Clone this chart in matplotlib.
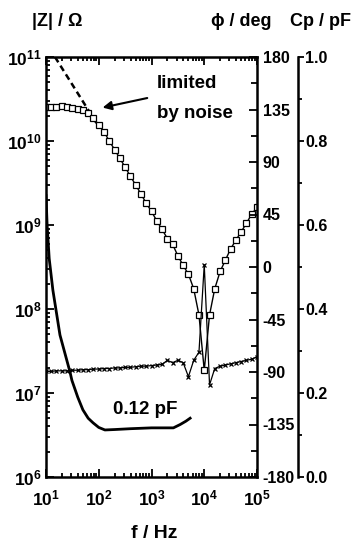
import matplotlib
matplotlib.use('Agg')
import matplotlib.pyplot as plt
from matplotlib.ticker import LogLocator, MultipleLocator, NullFormatter, FormatStrFormatter

plt.rcParams['font.family'] = ['Liberation Sans', 'DejaVu Sans']
plt.rcParams['font.weight'] = 'bold'
plt.rcParams['axes.unicode_minus'] = False
plt.rcParams['mathtext.fontset'] = 'custom'
plt.rcParams['mathtext.rm'] = 'Liberation Sans:bold'
plt.rcParams['mathtext.it'] = 'Liberation Sans:bold:italic'
plt.rcParams['mathtext.bf'] = 'Liberation Sans:bold'

# measured spectrum, 10 points per decade
freq = [10, 12.6, 15.8, 20, 25.1, 31.6, 39.8, 50.1, 63.1, 79.4,
        100, 126, 158, 200, 251, 316, 398, 501, 631, 794,
        1000, 1260, 1580, 2000, 2510, 3160, 3980, 5010, 6310, 7940,
        10000, 12600, 15800, 20000, 25100, 31600, 39800, 50100, 63100, 79400,
        100000]
z_abs = [2.54e10, 2.54e10, 2.51e10, 2.63e10, 2.51e10, 2.45e10, 2.40e10, 2.34e10, 2.14e10, 1.86e10,
         1.55e10, 1.29e10, 1.0e10, 7.9e9, 6.2e9, 4.9e9, 3.8e9, 3.0e9, 2.34e9, 1.82e9,
         1.45e9, 1.12e9, 8.9e8, 6.9e8, 5.9e8, 4.3e8, 3.3e8, 2.6e8, 1.74e8, 8.5e7,
         1.86e7, 8.5e7, 1.74e8, 2.8e8, 3.8e8, 5.2e8, 6.6e8, 8.3e8, 1.05e9, 1.35e9,
         1.62e9]
phase = [-89.5, -89.5, -89, -89, -89, -88.5, -88.5, -88, -88, -87.5,
         -87.5, -87, -87, -86.5, -86.5, -86, -86, -85.5, -85, -85,
         -84.5, -84, -83.5, -80, -82, -80, -82, -94, -80, -73,
         2, -101, -87, -85, -84, -83, -82, -81, -80, -79,
         -77]

# parallel capacitance
cp_freq = [10, 10.5, 11.5, 13.5, 18.4, 28.5, 31, 40, 50, 63, 78, 100, 131,
           200, 400, 1000, 2000, 2600, 3500, 4500, 5400]
cp_pf = [0.67, 0.60, 0.52, 0.445, 0.338, 0.25, 0.23, 0.19, 0.16, 0.14, 0.129, 0.118, 0.112,
         0.113, 0.115, 0.117, 0.117, 0.117, 0.125, 0.133, 0.14]

# ideal capacitor line
ideal_freq = [14.8, 100]
ideal_z = [1e11, 1.48e10]

W, H = 354, 542
L, R, T, B = 46, 257, 57, 477
fig = plt.figure(figsize=(W / 100, H / 100), dpi=100)
ax = fig.add_axes([L / W, 1 - B / H, (R - L) / W, (B - T) / H])

ax.plot(ideal_freq, ideal_z, color='k', lw=1.8, ls=(0, (2.5, 1.6)))
ax.plot(freq, z_abs, color='k', lw=1.0, marker='s', ms=4.2, mfc='white', mec='k', mew=0.9)

ax.set_xscale('log')
ax.set_yscale('log')
ax.set_xlim(10, 1e5)
ax.set_ylim(1e6, 1e11)
ax.xaxis.set_major_locator(LogLocator(base=10, numticks=10))
ax.xaxis.set_minor_locator(LogLocator(base=10, subs=range(2, 10), numticks=20))
ax.xaxis.set_minor_formatter(NullFormatter())
ax.yaxis.set_major_locator(LogLocator(base=10, numticks=10))
ax.yaxis.set_minor_locator(LogLocator(base=10, subs=range(2, 10), numticks=20))
ax.yaxis.set_minor_formatter(NullFormatter())
ax.tick_params(which='both', direction='in', top=True, right=False, width=1.3, labelsize=12.5)
ax.tick_params(which='major', length=6)
ax.tick_params(which='minor', length=3)
ax.tick_params(axis='x', pad=8)
ax.tick_params(axis='y', pad=3)
for s in ax.spines.values():
    s.set_linewidth(1.8)
ax.spines['right'].set_visible(False)

ax.annotate('', xy=(105, 2.46e10), xytext=(935, 3.3e10),
            arrowprops=dict(arrowstyle='-|>', lw=1.5, color='k', mutation_scale=13))
ax.text(1260, 4.8e10, 'limited', fontsize=13.5, ha='left', va='center')
ax.text(1260, 2.1e10, 'by noise', fontsize=13.5, ha='left', va='center')

# phase axis
axp = ax.twinx()
axp.plot(freq, phase, color='k', lw=0.9, marker='x', ms=3.5, mew=0.9)
axp.set_ylim(-180, 180)
axp.yaxis.set_major_locator(MultipleLocator(45))
axp.yaxis.set_minor_locator(MultipleLocator(22.5))
axp.tick_params(which='both', direction='in', width=1.3, pad=4, labelsize=11.5)
axp.tick_params(which='major', length=6)
axp.tick_params(which='minor', length=4)
for k in ['left', 'top', 'bottom']:
    axp.spines[k].set_visible(False)
axp.spines['right'].set_linewidth(1.8)

# capacitance axis
axc = ax.twinx()
axc.plot(cp_freq, cp_pf, color='k', lw=2.0)
axc.set_ylim(0, 1.0)
axc.spines['right'].set_position(('axes', (298 - L) / (R - L)))
for k in ['left', 'top', 'bottom']:
    axc.spines[k].set_visible(False)
axc.spines['right'].set_linewidth(1.8)
axc.yaxis.set_major_locator(MultipleLocator(0.2))
axc.yaxis.set_minor_locator(MultipleLocator(0.1))
axc.yaxis.set_major_formatter(FormatStrFormatter('%.1f'))
axc.tick_params(which='both', direction='out', width=1.3, pad=1, labelsize=11.5)
axc.tick_params(which='major', length=4)
axc.tick_params(which='minor', length=3)
axc.text(186, 0.16, '0.12 pF', fontsize=13.5, ha='left', va='center')

fig.text(57 / W, 1 - 22 / H, '|Z| / \u03a9', fontsize=13, ha='center', va='center')
fig.text(241 / W, 1 - 22 / H, '\u03d5 / deg', fontsize=13, ha='center', va='center')
fig.text(320 / W, 1 - 22 / H, 'Cp / pF', fontsize=13, ha='center', va='center')
fig.text(154 / W, 1 - 533 / H, 'f / Hz', fontsize=14, ha='center', va='center')

fig.savefig('out.png', dpi=100)
